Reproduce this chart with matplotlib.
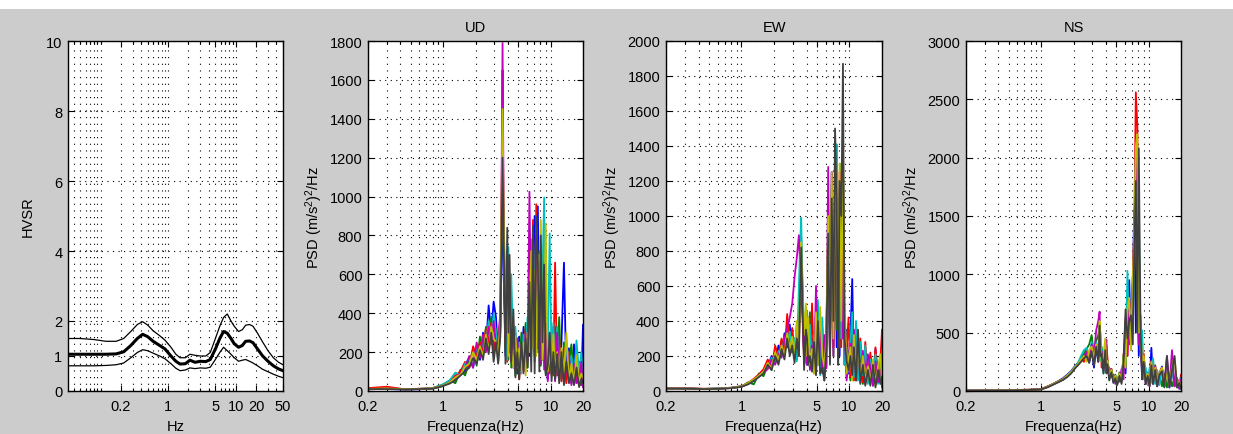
import matplotlib
matplotlib.use('Agg')
import numpy as np
import matplotlib.pyplot as plt
from matplotlib.ticker import FixedLocator, FixedFormatter, LogLocator, NullFormatter
from matplotlib.patches import Rectangle

plt.rcParams['font.family'] = ['Liberation Sans', 'DejaVu Sans']
plt.rcParams['mathtext.fontset'] = 'custom'
plt.rcParams['mathtext.rm'] = 'Liberation Sans'
plt.rcParams['mathtext.it'] = 'Liberation Sans'
plt.rcParams['font.size'] = 10.5

# ---------------- HVSR data ----------------
hv_freq = [0.033, 0.05, 0.08, 0.12, 0.17, 0.22, 0.28, 0.35, 0.42, 0.5, 0.6, 0.75, 0.9, 1.1, 1.3,
           1.5, 1.8, 2.1, 2.5, 3.0, 3.6, 4.2, 5.0, 5.8, 6.6, 7.5, 8.5, 9.5, 11, 12.5, 14, 16, 18,
           21, 25, 30, 36, 43, 50]
hv_mean = [1.05, 1.05, 1.05, 1.05, 1.06, 1.12, 1.3, 1.5, 1.62, 1.55, 1.42, 1.3, 1.2, 1.0, 0.85,
           0.77, 0.78, 0.88, 0.82, 0.85, 0.84, 0.9, 1.2, 1.5, 1.7, 1.65, 1.5, 1.35, 1.25, 1.3,
           1.42, 1.43, 1.38, 1.2, 1.0, 0.85, 0.72, 0.63, 0.58]
hv_upper = [1.5, 1.5, 1.47, 1.42, 1.42, 1.5, 1.7, 1.9, 1.98, 1.88, 1.72, 1.58, 1.45, 1.25, 1.05,
            0.95, 0.95, 1.05, 1.02, 1.0, 1.0, 1.1, 1.5, 1.85, 2.1, 2.2, 2.0, 1.85, 1.7, 1.75,
            1.88, 1.9, 1.85, 1.65, 1.4, 1.15, 0.95, 0.82, 0.75]
hv_lower = [0.72, 0.72, 0.72, 0.73, 0.75, 0.8, 0.95, 1.1, 1.18, 1.15, 1.08, 1.0, 0.92, 0.78, 0.65,
            0.58, 0.6, 0.66, 0.64, 0.66, 0.65, 0.68, 0.9, 1.1, 1.25, 1.15, 1.05, 0.95, 0.85, 0.88,
            0.9, 0.85, 0.8, 0.72, 0.62, 0.55, 0.48, 0.42, 0.38]
hv_xticks = [0.2, 1, 5, 10, 20, 50]
hv_xticklabels = ['0.2', '1', '5', '10', '20', '50']
hv_yticks = [0, 1, 2, 4, 6, 8, 10]

# ---------------- PSD data ----------------
freq = [0.2, 0.3, 0.45, 0.6, 0.8, 1.0, 1.15, 1.3, 1.45, 1.6,
        1.75, 1.9, 2.05, 2.2, 2.35, 2.5, 2.65, 2.8, 2.95, 3.1,
        3.25, 3.4, 3.5, 3.57, 3.65, 3.8, 3.95, 4.05, 4.15, 4.3,
        4.5, 4.7, 4.9, 5.1, 5.35, 5.6, 5.85, 6.1, 6.35, 6.6,
        6.85, 7.1, 7.35, 7.6, 7.85, 8.1, 8.4, 8.7, 9.0, 9.4,
        9.8, 10.2, 10.6, 11.0, 11.5, 12.0, 12.6, 13.3, 14.0, 14.8,
        15.6, 16.5, 17.4, 18.4, 19.3, 20.0]
psd_xticks = [0.2, 1, 5, 10, 20]
psd_xticklabels = ['0.2', '1', '5', '10', '20']

# UD
ud_b = [12, 10, 8, 9, 14, 30, 42, 62, 88, 110,
        170, 120, 230, 160, 300, 220, 440, 300, 460, 380,
        180, 300, 720, 1350, 620, 180, 380, 520, 200, 290,
        120, 250, 90, 280, 150, 330, 110, 300, 180, 720,
        250, 900, 200, 950, 300, 610, 160, 690, 240, 60,
        300, 120, 330, 60, 280, 150, 240, 660, 60, 220,
        40, 240, 60, 150, 30, 340]
ud_g = [8, 14, 9, 10, 12, 25, 55, 40, 110, 80,
        150, 210, 130, 280, 190, 330, 210, 380, 220, 320,
        150, 330, 800, 1100, 900, 200, 420, 160, 430, 120,
        290, 80, 260, 100, 300, 130, 350, 120, 520, 180,
        760, 150, 820, 200, 720, 130, 540, 300, 90, 380,
        120, 260, 80, 330, 100, 380, 60, 250, 90, 140,
        240, 50, 160, 30, 120, 60]
ud_r = [15, 22, 8, 12, 16, 32, 50, 80, 100, 150,
        120, 230, 180, 250, 200, 320, 250, 350, 200, 290,
        240, 380, 1000, 1650, 800, 240, 150, 620, 300, 480,
        150, 300, 170, 60, 240, 120, 320, 200, 540, 250,
        880, 200, 960, 300, 690, 150, 540, 280, 100, 250,
        90, 290, 120, 660, 80, 280, 50, 220, 40, 200,
        60, 150, 40, 110, 30, 130]
ud_c = [10, 11, 9, 11, 15, 35, 55, 95, 80, 140,
        170, 130, 230, 180, 280, 230, 360, 260, 400, 300,
        230, 340, 900, 1400, 850, 320, 160, 740, 250, 600,
        200, 330, 120, 250, 90, 290, 170, 380, 230, 780,
        250, 560, 840, 200, 700, 180, 600, 995, 90, 200,
        810, 150, 350, 70, 330, 150, 190, 80, 260, 120,
        180, 60, 260, 90, 200, 60]
ud_m = [9, 12, 10, 9, 13, 28, 45, 68, 92, 120,
        180, 120, 250, 170, 290, 200, 330, 240, 360, 220,
        260, 400, 1100, 1790, 1000, 280, 400, 250, 560, 150,
        300, 110, 270, 130, 220, 90, 300, 150, 1025, 300,
        620, 180, 800, 220, 660, 140, 520, 110, 350, 50,
        210, 100, 260, 50, 300, 70, 210, 40, 110, 190,
        30, 140, 40, 60, 150, 20]
ud_y = [11, 13, 9, 10, 14, 28, 44, 70, 85, 125,
        140, 200, 160, 230, 180, 290, 200, 330, 270, 250,
        170, 360, 1000, 1450, 950, 300, 460, 180, 580, 220,
        120, 280, 140, 220, 100, 250, 80, 300, 200, 720,
        220, 620, 180, 700, 250, 880, 160, 330, 860, 100,
        200, 80, 290, 100, 200, 60, 220, 90, 300, 50,
        140, 40, 180, 50, 90, 70]
ud_k = [10, 10, 8, 10, 12, 26, 38, 55, 80, 100,
        120, 170, 140, 210, 160, 270, 190, 300, 150, 250,
        140, 280, 800, 1200, 820, 140, 840, 300, 700, 150,
        420, 70, 200, 60, 250, 100, 270, 120, 560, 100,
        850, 90, 900, 680, 100, 800, 250, 650, 80, 130,
        300, 50, 200, 60, 190, 40, 200, 30, 150, 40,
        90, 30, 120, 20, 60, 40]

# EW
ew_b = [16, 14, 12, 13, 18, 26, 42, 65, 90, 115,
        140, 200, 160, 260, 200, 330, 250, 380, 220, 300,
        180, 450, 620, 760, 520, 200, 330, 150, 420, 190,
        300, 120, 350, 150, 380, 110, 250, 130, 850, 200,
        1250, 300, 1150, 250, 1000, 200, 950, 1200, 150, 350,
        100, 300, 640, 90, 380, 70, 260, 50, 230, 60,
        200, 40, 240, 60, 190, 30]
ew_g = [14, 16, 11, 14, 17, 24, 50, 38, 100, 85,
        150, 120, 210, 170, 290, 200, 350, 230, 330, 200,
        380, 250, 700, 820, 640, 250, 200, 380, 150, 450,
        120, 260, 100, 450, 130, 320, 60, 260, 900, 300,
        1150, 200, 1250, 350, 1100, 250, 1300, 300, 400, 100,
        220, 60, 380, 120, 300, 80, 240, 40, 200, 50,
        160, 30, 120, 50, 150, 20]
ew_r = [17, 15, 13, 14, 19, 28, 45, 70, 95, 125,
        180, 130, 260, 190, 300, 220, 440, 280, 360, 230,
        330, 200, 700, 880, 580, 150, 420, 200, 400, 130,
        500, 100, 300, 480, 140, 360, 80, 300, 950, 180,
        1100, 250, 1200, 1400, 300, 1250, 250, 1300, 150, 230,
        420, 80, 330, 60, 380, 100, 300, 50, 280, 70,
        220, 50, 250, 80, 170, 350]
ew_c = [15, 14, 12, 15, 18, 27, 43, 62, 88, 110,
        135, 190, 160, 225, 200, 310, 260, 340, 220, 300,
        170, 600, 850, 990, 700, 300, 160, 460, 280, 380,
        150, 320, 130, 520, 90, 420, 120, 330, 1000, 250,
        1180, 350, 1280, 1410, 200, 1200, 300, 1350, 150, 250,
        110, 280, 450, 80, 400, 60, 280, 90, 260, 40,
        180, 60, 210, 40, 160, 220]
ew_m = [14, 15, 11, 13, 17, 25, 40, 60, 82, 105,
        125, 180, 150, 215, 190, 300, 360, 420, 500, 650,
        760, 890, 700, 600, 450, 200, 380, 150, 350, 120,
        260, 150, 600, 200, 380, 100, 320, 130, 1280, 300,
        1250, 200, 1200, 1050, 150, 1150, 1250, 300, 350, 60,
        160, 270, 80, 350, 60, 300, 50, 230, 40, 210,
        130, 30, 170, 50, 120, 80]
ew_y = [15, 14, 12, 13, 17, 26, 44, 66, 86, 110,
        160, 130, 220, 180, 260, 200, 330, 240, 310, 200,
        400, 250, 720, 850, 600, 320, 500, 200, 420, 150,
        240, 100, 450, 150, 480, 200, 140, 300, 1000, 400,
        1250, 300, 1300, 1200, 250, 1300, 400, 1350, 550, 100,
        180, 250, 60, 320, 100, 270, 60, 200, 50, 140,
        40, 180, 30, 140, 210, 60]
ew_k = [14, 13, 11, 12, 16, 24, 38, 58, 80, 100,
        150, 120, 200, 150, 240, 180, 300, 200, 260, 160,
        300, 200, 600, 820, 560, 120, 350, 300, 150, 200,
        110, 280, 90, 400, 100, 130, 60, 240, 900, 150,
        1100, 400, 1500, 1100, 150, 1200, 1000, 1870, 300, 170,
        120, 200, 90, 250, 60, 350, 40, 150, 30, 120,
        30, 150, 20, 120, 40, 80]

# NS
ns_b = [3, 4, 5, 7, 10, 16, 38, 62, 85, 110,
        140, 170, 210, 240, 260, 290, 310, 250, 350, 200,
        380, 250, 540, 300, 320, 180, 340, 190, 240, 120,
        170, 90, 120, 70, 140, 100, 280, 150, 700, 950,
        400, 900, 1550, 500, 1100, 300, 500, 100, 250, 80,
        140, 50, 370, 60, 180, 40, 130, 210, 40, 130,
        30, 220, 40, 90, 20, 100]
ns_g = [3, 4, 5, 8, 11, 15, 36, 58, 80, 100,
        130, 160, 200, 240, 280, 320, 360, 400, 480, 300,
        430, 480, 560, 280, 380, 200, 400, 160, 260, 120,
        190, 100, 140, 70, 160, 90, 320, 200, 750, 400,
        700, 500, 1300, 1950, 1800, 400, 650, 150, 300, 70,
        160, 60, 230, 80, 220, 50, 150, 40, 150, 30,
        140, 40, 120, 30, 80, 20]
ns_r = [4, 4, 6, 9, 12, 17, 40, 62, 85, 105,
        135, 165, 205, 235, 275, 250, 340, 300, 370, 250,
        410, 300, 580, 470, 200, 310, 180, 390, 270, 150,
        190, 100, 130, 60, 150, 80, 300, 620, 300, 780,
        500, 950, 1400, 2560, 2270, 400, 600, 150, 320, 90,
        150, 60, 260, 80, 220, 50, 160, 200, 40, 150,
        60, 240, 50, 110, 30, 140]
ns_c = [3, 4, 5, 8, 10, 15, 36, 60, 82, 102,
        135, 165, 205, 240, 300, 350, 370, 280, 420, 300,
        420, 300, 580, 260, 360, 150, 390, 200, 250, 100,
        180, 70, 130, 60, 150, 90, 300, 250, 1030, 450,
        700, 400, 1300, 2000, 900, 1650, 300, 520, 100, 200,
        50, 200, 70, 280, 60, 180, 50, 190, 60, 140,
        40, 200, 60, 100, 30, 110]
ns_m = [3, 4, 5, 7, 10, 15, 34, 58, 78, 98,
        125, 155, 195, 225, 265, 300, 330, 260, 400, 300,
        520, 600, 680, 300, 340, 180, 380, 440, 160, 200,
        120, 140, 60, 110, 80, 190, 100, 580, 300, 760,
        350, 850, 1300, 2100, 1700, 400, 580, 120, 280, 60,
        150, 40, 240, 70, 210, 50, 140, 190, 50, 300,
        40, 350, 40, 100, 20, 100]
ns_y = [3, 4, 5, 8, 10, 15, 35, 60, 80, 100,
        130, 160, 200, 230, 270, 300, 250, 350, 380, 280,
        400, 300, 600, 450, 250, 300, 450, 180, 260, 130,
        180, 80, 130, 70, 150, 100, 300, 200, 700, 800,
        350, 900, 1400, 2100, 2200, 500, 600, 200, 300, 90,
        150, 50, 250, 80, 200, 60, 150, 200, 50, 150,
        50, 200, 300, 40, 80, 30]
ns_k = [3, 3, 4, 7, 9, 14, 32, 55, 76, 95,
        120, 150, 190, 220, 250, 280, 300, 240, 340, 220,
        380, 250, 560, 300, 320, 150, 350, 150, 230, 90,
        160, 70, 110, 50, 130, 60, 260, 700, 450, 600,
        650, 400, 1200, 1800, 500, 2080, 550, 100, 250, 60,
        130, 40, 220, 60, 180, 40, 140, 170, 30, 300,
        30, 180, 300, 30, 70, 20]

ud_series = [ud_b, ud_g, ud_r, ud_c, ud_m, ud_y, ud_k]
ew_series = [ew_b, ew_g, ew_r, ew_c, ew_m, ew_y, ew_k]
ns_series = [ns_b, ns_g, ns_r, ns_c, ns_m, ns_y, ns_k]

matlab_colors = [(0, 0, 1), (0, 0.5, 0), (1, 0, 0), (0, 0.75, 0.75),
                 (0.75, 0, 0.75), (0.75, 0.75, 0), (0.25, 0.25, 0.25)]

# ---------------- figure ----------------
W, H = 1233, 435
fig = plt.figure(figsize=(W / 100, H / 100), dpi=100, facecolor='#cccccc')
fig.patches.append(Rectangle((0, 1 - 10 / H), 1, 10 / H, transform=fig.transFigure,
                             facecolor='white', edgecolor='none', zorder=0))


def px_axes(left, right, top, bottom):
    return fig.add_axes([left / W, 1 - bottom / H, (right - left) / W, (bottom - top) / H])


def style(ax, xticks, xlabels, yticks):
    ax.set_facecolor('white')
    ax.set_xscale('log')
    ax.xaxis.set_major_locator(FixedLocator(xticks))
    ax.xaxis.set_major_formatter(FixedFormatter(xlabels))
    ax.xaxis.set_minor_locator(LogLocator(base=10, subs=np.arange(1, 10)))
    ax.xaxis.set_minor_formatter(NullFormatter())
    ax.set_yticks(yticks)
    ax.tick_params(which='both', direction='in', top=True, right=True, labelsize=10.5,
                   color='black', width=0.8)
    ax.tick_params(which='major', length=4, pad=4)
    ax.tick_params(axis='x', which='major', pad=6)
    ax.tick_params(which='minor', length=2.2)
    for s in ax.spines.values():
        s.set_linewidth(1.0)
        s.set_color('black')
    ax.grid(True, which='both', axis='x', color='black', linewidth=0.8,
            linestyle=(0, (1, 5)))
    ax.grid(True, which='major', axis='y', color='black', linewidth=0.8,
            linestyle=(0, (1, 4)))
    ax.set_axisbelow(True)


# Panel 1 : HVSR
ax1 = px_axes(68, 283, 42, 392)
ax1.plot(hv_freq, hv_upper, color='black', linewidth=0.9)
ax1.plot(hv_freq, hv_lower, color='black', linewidth=0.9)
ax1.plot(hv_freq, hv_mean, color='black', linewidth=2.2)
style(ax1, hv_xticks, hv_xticklabels, hv_yticks)
ax1.set_xlim(0.033, 50)
ax1.set_ylim(0, 10)
ax1.set_xlabel('Hz', labelpad=4)
ax1.set_ylabel('HVSR', labelpad=8)

psd_ylabel = r'PSD (m/s$^2$)$^2$/Hz'
panels = [
    (368, 583, 'UD', ud_series, 1800, list(range(0, 1801, 200))),
    (666, 882, 'EW', ew_series, 2000, list(range(0, 2001, 200))),
    (966, 1181, 'NS', ns_series, 3000, list(range(0, 3001, 500))),
]
for left, right, title, series, ymax, yticks in panels:
    ax = px_axes(left, right, 42, 392)
    for vals, col in zip(series, matlab_colors):
        ax.plot(freq, vals, color=col, linewidth=1.3)
    style(ax, psd_xticks, psd_xticklabels, yticks)
    ax.set_xlim(0.2, 20)
    ax.set_ylim(0, ymax)
    ax.set_title(title, fontsize=10.5, pad=7)
    ax.set_xlabel('Frequenza(Hz)', labelpad=4)
    ax.set_ylabel(psd_ylabel, labelpad=3)

fig.savefig('out.png', dpi=100, facecolor=fig.get_facecolor())
